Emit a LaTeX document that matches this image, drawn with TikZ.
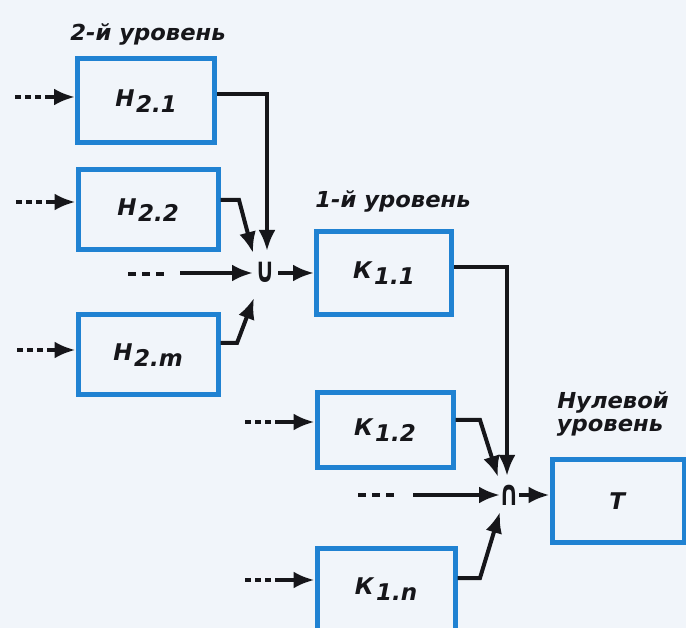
\documentclass[tikz,border=0pt]{standalone}
\usepackage{fontspec}
\setmainfont{DejaVu Sans}
\usetikzlibrary{arrows.meta}
\definecolor{bg}{RGB}{241,245,250}
\definecolor{boxblue}{RGB}{32,130,210}
\definecolor{ink}{RGB}{22,22,26}
\newcommand\boxtxt[2]{\textit{#1}\kern1.5pt\raisebox{-6pt}{\textit{#2}}}
\newcommand\wide[1]{\scalebox{1.03}[1]{#1}}
\newcommand\opglyph[1]{\scalebox{0.9}[1.3]{#1}}
\begin{document}
\begin{tikzpicture}[x=1pt,y=-1pt,
  box/.style={draw=boxblue, line width=5pt, rectangle, inner sep=0pt,
    font=\fontsize{23}{26}\selectfont\bfseries, text=ink},
  lbl/.style={font=\fontsize{22}{24}\selectfont\bfseries\itshape, text=ink, inner sep=0pt},
  op/.style={font=\fontsize{27}{29}\selectfont\bfseries, text=ink, inner sep=0pt},
  conn/.style={draw=ink, line width=4pt},
  arr/.style={conn, -{Latex[length=21pt,width=17pt]}},
  dashin/.style={conn, dash pattern=on 6pt off 4pt},
  dots/.style={conn, dash pattern=on 8pt off 6pt},
]
\fill[bg] (0,0) rectangle (686,628);
\useasboundingbox (0,0) rectangle (686,628);
\clip (0,0) rectangle (686,628);

% labels
\node[lbl] (l2) at (148,34) {\wide{2-й уровень}};
\node[lbl] (l1) at (393,201) {\wide{1-й уровень}};
\node[lbl] (l0a) at (613,402) {\wide{Нулевой}};
\node[lbl] (l0b) at (610,428) {\wide{уровень}};

% boxes
\node[box, minimum width=137pt, minimum height=84pt] (H21) at (146,101) {\boxtxt{Н}{2.1}};
\node[box, minimum width=140pt, minimum height=80pt] (H22) at (148,210) {\boxtxt{Н}{2.2}};
\node[box, minimum width=140pt, minimum height=80pt] (H2m) at (148,355) {\boxtxt{Н}{2.m}};
\node[box, minimum width=135pt, minimum height=83pt] (K11) at (384,273) {\boxtxt{К}{1.1}};
\node[box, minimum width=136pt, minimum height=75pt] (K12) at (385,430) {\boxtxt{К}{1.2}};
\node[box, minimum width=138pt, minimum height=82pt] (K1n) at (386,589) {\boxtxt{К}{1.n}};
\node[box, minimum width=132pt, minimum height=83pt] (T) at (618,501) {\textit{Т}};

% operators
\node[op] (U) at (265,272) {\opglyph{∪}};
\node[op] (C) at (509,495) {\opglyph{∩}};

% coordinates
\coordinate (uN) at (267,251);
\coordinate (uNW) at (253,253);
\coordinate (uW) at (253,273);
\coordinate (uSW) at (254,298);
\coordinate (uE) at (278,273);
\coordinate (cN) at (507,476);
\coordinate (cNW) at (498,477);
\coordinate (cW) at (500,495);
\coordinate (cSW) at (500,512);
\coordinate (cE) at (519,495);

% inputs (dashed)
\coordinate (i1a) at (15,97);  \coordinate (i1b) at (45,97);
\coordinate (i2a) at (16,202); \coordinate (i2b) at (46,202);
\coordinate (i3a) at (17,350); \coordinate (i3b) at (47,350);
\coordinate (i4a) at (245,422); \coordinate (i4b) at (280,422);
\coordinate (i5a) at (245,580); \coordinate (i5b) at (280,580);
\draw[dashin] (i1a) -- (i1b); \draw[arr] (i1b) -- (H21.west |- i1b);
\draw[dashin] (i2a) -- (i2b); \draw[arr] (i2b) -- (H22.west |- i2b);
\draw[dashin] (i3a) -- (i3b); \draw[arr] (i3b) -- (H2m.west |- i3b);
\draw[dashin] (i4a) -- (i4b); \draw[arr] (i4b) -- (K12.west |- i4b);
\draw[dashin] (i5a) -- (i5b); \draw[arr] (i5b) -- (K1n.west |- i5b);

% level 2 -> union
\draw[arr] (H21.east |- 0,94) -| (uN);
\draw[arr] (H22.east |- 0,200) -- (239,200) -- (uNW);
\draw[arr] (H2m.east |- 0,343) -- (237,343) -- (uSW);
\coordinate (d1a) at (128,274); \coordinate (d1b) at (164,274);
\draw[dots] (d1a) -- (d1b);
\coordinate (d1c) at (180,273);
\draw[arr] (d1c) -- (uW);
\draw[arr] (uE) -- (K11.west |- uE);

% level 1 -> intersection
\draw[arr] (K11.east |- 0,267) -| (cN);
\draw[arr] (K12.east |- 0,420) -- (480,420) -- (cNW);
\draw[arr] (K1n.east |- 0,578) -- (480,578) -- (cSW);
\coordinate (d2a) at (358,495); \coordinate (d2b) at (397,495);
\draw[dots] (d2a) -- (d2b);
\coordinate (d2c) at (413,495);
\draw[arr] (d2c) -- (cW);
\draw[arr] (cE) -- (T.west |- cE);
\end{tikzpicture}
\end{document}
